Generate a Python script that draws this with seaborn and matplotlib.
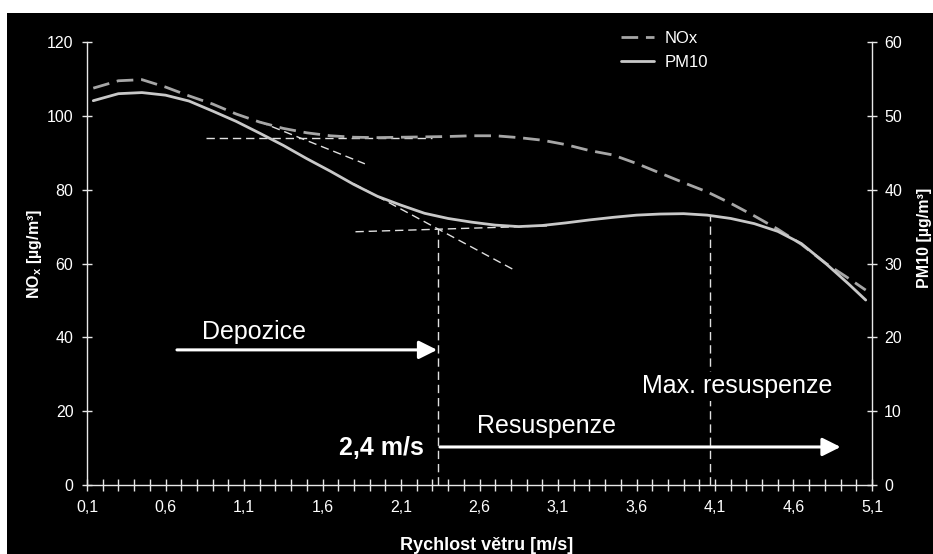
import numpy as np
import pandas as pd
import matplotlib
matplotlib.use("Agg")
import matplotlib.pyplot as plt
import seaborn as sns
from matplotlib.patches import Rectangle

# ---------------- data ----------------
wind_speed = [0.14, 0.3, 0.45, 0.6, 0.75, 0.9, 1.05, 1.2, 1.35, 1.5, 1.65, 1.8, 1.95,
              2.1, 2.25, 2.4, 2.55, 2.7, 2.85, 3.0, 3.15, 3.3, 3.45, 3.6, 3.75, 3.9,
              4.05, 4.2, 4.35, 4.5, 4.65, 4.8, 4.95, 5.06]
nox = [107.5, 109.5, 109.8, 107.8, 105.4, 103.2, 100.5, 98.3, 96.6, 95.4, 94.6, 94.2, 94.1,
       94.2, 94.3, 94.4, 94.6, 94.6, 94.1, 93.4, 92.2, 90.6, 89.4, 87.1, 84.5, 81.9,
       79.4, 76.3, 72.9, 69.3, 65.2, 60.2, 56.0, 52.8]
pm10 = [52.05, 53.0, 53.15, 52.8, 52.0, 50.65, 49.25, 47.65, 46.0, 44.2, 42.5, 40.7, 39.1,
        37.9, 36.8, 36.1, 35.6, 35.2, 35.0, 35.15, 35.5, 35.9, 36.25, 36.55, 36.7, 36.75,
        36.55, 36.1, 35.4, 34.35, 32.7, 30.1, 27.25, 25.05]

x_tick_values = [0.1, 0.6, 1.1, 1.6, 2.1, 2.6, 3.1, 3.6, 4.1, 4.6, 5.1]
x_tick_labels = ["0,1", "0,6", "1,1", "1,6", "2,1", "2,6", "3,1", "3,6", "4,1", "4,6", "5,1"]
nox_ticks = [0, 20, 40, 60, 80, 100, 120]
pm10_ticks = [0, 10, 20, 30, 40, 50, 60]

# helper (tangent) lines, in NOx-axis units
tangent_x = [[0.86, 2.30], [1.20, 1.87], [1.80, 2.81], [1.81, 3.03]]
tangent_y = [[94.1, 94.1], [98.4, 87.0], [81.6, 58.5], [68.6, 70.2]]
# vertical markers: x, top value
vline_x = [2.336, 4.07]
vline_top = [69.4, 72.9]

# ---------------- style ----------------
sns.set_theme(style="dark", rc={"axes.facecolor": "black", "figure.facecolor": "white"})
plt.rcParams["font.family"] = ["Liberation Sans", "DejaVu Sans"]
plt.rcParams["mathtext.fontset"] = "custom"
plt.rcParams["mathtext.rm"] = "Liberation Sans"
plt.rcParams["mathtext.bf"] = "Liberation Sans:bold"

W, H = 933, 554
fig = plt.figure(figsize=(W / 100, H / 100), dpi=100)
fig.patches.append(Rectangle((7 / W, 0), 1, (H - 13) / H, transform=fig.transFigure,
                             facecolor="black", edgecolor="none", zorder=-10))

ax = fig.add_axes([87 / W, 1 - 485 / H, (872 - 87) / W, (485 - 42) / H])
ax2 = ax.twinx()
ax2.patch.set_visible(False)

df = pd.DataFrame({"wind": wind_speed, "NOx": nox, "PM10": pm10})

sns.lineplot(data=df, x="wind", y="NOx", ax=ax, color="#a6a6a6", lw=2.0,
             legend=False, zorder=3)
ax.lines[-1].set_dashes((6, 2.8))
sns.lineplot(data=df, x="wind", y="PM10", ax=ax2, color="#c8c8c8", lw=2.0,
             legend=False, zorder=3)

ax.set_xlim(0.1, 5.1)
ax.set_ylim(0, 120)
ax2.set_ylim(0, 60)

# helper lines
for tx, ty in zip(tangent_x, tangent_y):
    ax.plot(tx, ty, color="#e0e0e0", lw=1.0, dashes=(6, 3.5), zorder=2)
for vx, vt in zip(vline_x, vline_top):
    ax.plot([vx, vx], [0, vt], color="#e0e0e0", lw=1.0, dashes=(6, 3.5), zorder=2)

# arrows
arrow_kw = dict(arrowstyle="-|>,head_length=1.1,head_width=0.55", color="white",
                lw=2.2, mutation_scale=10, shrinkA=0, shrinkB=0)
ax.annotate("", xy=(2.33, 36.6), xytext=(0.673, 36.6), arrowprops=arrow_kw, zorder=5)
ax.annotate("", xy=(4.90, 10.3), xytext=(2.348, 10.3), arrowprops=arrow_kw, zorder=5)

# texts
ax.text(0.832, 39.5, "Depozice", color="white", fontsize=18, ha="left", va="baseline")
ax.text(2.246, 8.1, "2,4 m/s", color="white", fontsize=18, fontweight="bold",
        ha="right", va="baseline")
ax.text(2.584, 14.0, "Resuspenze", color="white", fontsize=18, ha="left", va="baseline")
ax.text(3.635, 24.8, "Max. resuspenze", color="white", fontsize=18, ha="left", va="baseline",
        bbox=dict(facecolor="black", edgecolor="none", pad=2), zorder=6)

# axes styling
for a in (ax, ax2):
    for s in a.spines.values():
        s.set_visible(False)
    a.grid(False)
ax.spines["left"].set_visible(True)
ax.spines["bottom"].set_visible(True)
ax2.spines["right"].set_visible(True)
for s in (ax.spines["left"], ax.spines["bottom"], ax2.spines["right"]):
    s.set_color("#e8e8e8")
    s.set_linewidth(1.0)

ax.set_xticks(x_tick_values)
ax.set_xticklabels(x_tick_labels)
ax.set_xticks(np.round(np.arange(0.1, 5.15, 0.1), 2), minor=True)
ax.set_yticks(nox_ticks)
ax2.set_yticks(pm10_ticks)

ax.tick_params(axis="x", which="both", direction="inout", length=8, width=1.0,
               color="#e8e8e8", labelcolor="white", labelsize=11.5, pad=7, bottom=True)
ax.tick_params(axis="y", direction="inout", length=7.5, width=1.0, color="#e8e8e8",
               labelcolor="white", labelsize=11.5, pad=6, left=True)
ax2.tick_params(axis="y", direction="inout", length=7.5, width=1.0, color="#e8e8e8",
                labelcolor="white", labelsize=11.5, pad=5, right=True)

ax.set_xlabel("")
ax.set_ylabel("")
ax2.set_ylabel("")

fig.text(487 / W, 1 - 545 / H, "Rychlost větru [m/s]", color="white", fontsize=13,
         fontweight="bold", ha="center", va="center")
fig.text(35 / W, 1 - 254 / H, r"NO$_\mathbf{x}$ [µg/m³]", color="white", fontsize=11.5,
         fontweight="bold", ha="center", va="center", rotation=90)
fig.text(924 / W, 1 - 238 / H, "PM10 [µg/m³]", color="white", fontsize=11.5,
         fontweight="bold", ha="center", va="center", rotation=90)

# legend
leg = ax2.legend([ax.lines[0], ax2.lines[0]], ["NOx", "PM10"], loc="upper left",
                 bbox_to_anchor=(621 / W, 1 - 31 / H), bbox_transform=fig.transFigure,
                 frameon=False, fontsize=12, handlelength=2.0, handletextpad=0.6,
                 labelspacing=0.55, borderpad=0, borderaxespad=0)
for t in leg.get_texts():
    t.set_color("white")

fig.savefig("out.png", dpi=100)
